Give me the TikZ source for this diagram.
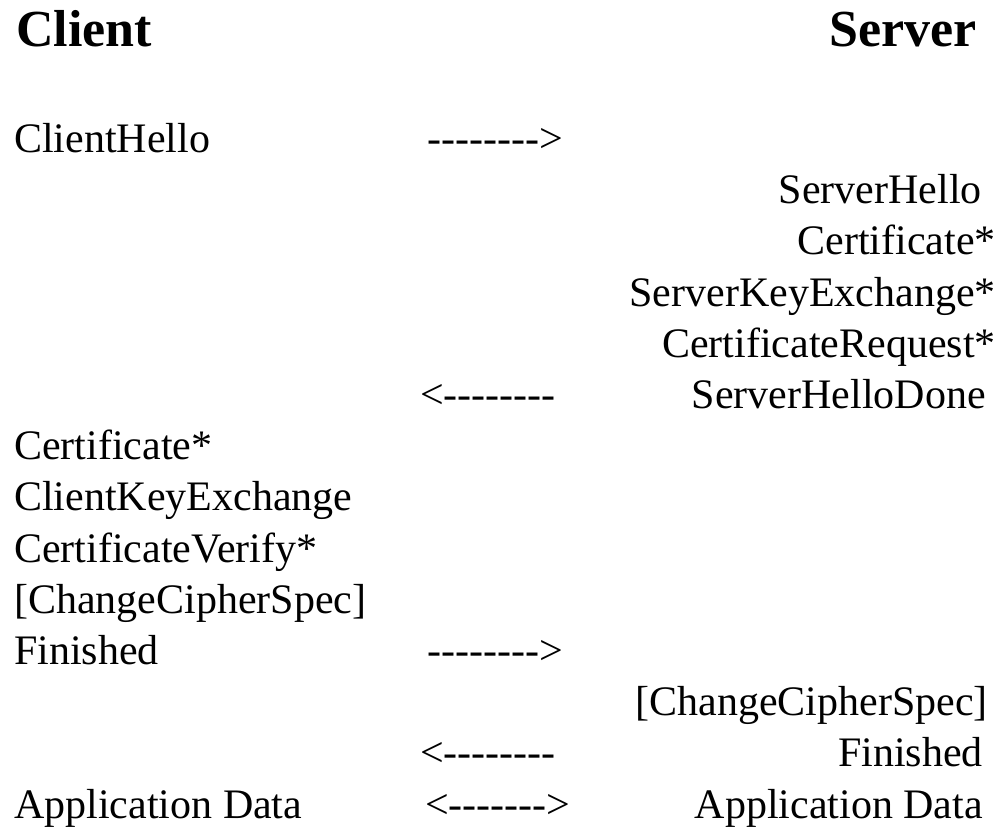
\documentclass[tikz,border=0pt]{standalone}
\usepackage{fontspec}
\setmainfont{Liberation Serif}[Ligatures=TeXOff]

\tikzset{
  head/.style={inner sep=0pt, font=\fontsize{52}{60}\selectfont\bfseries},
  msg/.style={inner sep=0pt, font=\fontsize{42}{51}\selectfont},
  cli/.style={msg, anchor=base west},
  srv/.style={msg, anchor=base east},
  flow/.style={msg, anchor=base west}
}

\begin{document}
\begin{tikzpicture}[x=1pt, y=-1pt]
  \useasboundingbox (0,0) rectangle (1004,827);
  \node[head, anchor=base west] (client) at (16,46) {Client};
  \node[head, anchor=base east] (server) at (977,46) {Server};

  \node[cli] (chello) at (14,152.5) {ClientHello};
  \node[flow] (f1) at (427,152.5) {-------->};
  \node[srv] (shello) at (982,203.7) {ServerHello};
  \node[srv] (scert) at (996,254.9) {Certificate*};
  \node[srv] (ske) at (996,306.1) {ServerKeyExchange*};
  \node[srv] (creq) at (996,357.3) {CertificateRequest*};
  \node[flow] (f2) at (420,408.5) {<--------};
  \node[srv] (shdone) at (986,408.5) {ServerHelloDone};
  \node[cli] (ccert) at (14,459.7) {Certificate*};
  \node[cli] (cke) at (14,510.9) {ClientKeyExchange};
  \node[cli] (cverify) at (14,562.1) {CertificateVerify*};
  \node[cli] (cccs) at (14,613.3) {[ChangeCipherSpec]};
  \node[cli] (cfin) at (14,664.5) {Finished};
  \node[flow] (f3) at (427,664.5) {-------->};
  \node[srv] (sccs) at (988,715.7) {[ChangeCipherSpec]};
  \node[flow] (f4) at (420,766.9) {<--------};
  \node[srv] (sfin) at (983,766.9) {Finished};
  \node[cli] (cdata) at (14,818.1) {Application Data};
  \node[flow] (f5) at (425,818.1) {<------->};
  \node[srv] (sdata) at (983,818.1) {Application Data};
\end{tikzpicture}
\end{document}
